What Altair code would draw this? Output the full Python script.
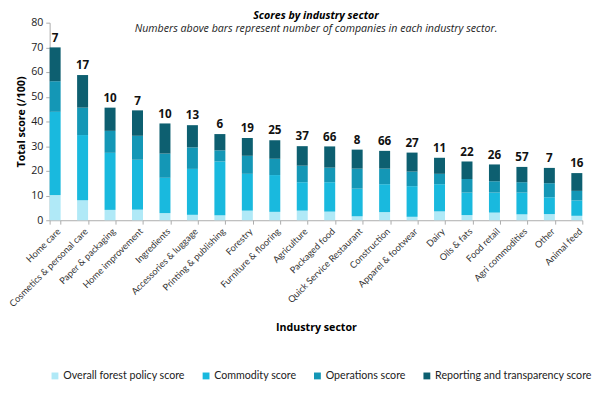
import altair as alt
import pandas as pd

categories = ["Home care", "Cosmetics & personal care", "Paper & packaging", "Home improvement",
              "Ingredients", "Accessories & luggage", "Printing & publishing", "Forestry",
              "Furniture & flooring", "Agriculture", "Packaged food", "Quick Service Restaurant",
              "Construction", "Apparel & footwear", "Dairy", "Oils & fats", "Food retail",
              "Agri commodities", "Other", "Animal feed"]
overall = [10.2, 8.1, 4.2, 4.3, 2.9, 2.2, 2.0, 3.9, 3.4, 3.9, 3.5, 1.6, 3.3, 1.4, 3.6, 2.1, 3.1, 2.4, 2.5, 1.8]
commodity = [33.7, 26.4, 23.1, 20.2, 14.3, 18.6, 21.8, 14.9, 14.9, 11.5, 11.9, 11.2, 11.3, 12.4, 11.0, 9.1, 8.1, 8.8, 6.8, 6.2]
operations = [12.4, 11.1, 8.9, 9.7, 9.8, 8.7, 4.5, 7.3, 6.6, 6.7, 5.9, 8.1, 6.3, 5.9, 4.2, 5.5, 4.6, 4.2, 5.7, 3.9]
reporting = [13.7, 13.2, 9.4, 10.3, 12.2, 9.0, 6.6, 7.2, 7.5, 7.9, 8.6, 7.7, 7.2, 7.7, 6.5, 7.1, 6.8, 6.2, 6.2, 7.2]
companies = [7, 17, 10, 7, 10, 13, 6, 19, 25, 37, 66, 8, 66, 27, 11, 22, 26, 57, 7, 16]
y_ticks = [0, 10, 20, 30, 40, 50, 60, 70, 80]

series_names = ["Overall forest policy score", "Commodity score", "Operations score",
                "Reporting and transparency score"]
series_colors = ["#b0e9f7", "#19b9de", "#1497b6", "#0d5f70"]
series_values = [overall, commodity, operations, reporting]

rows = []
for si, (name, vals) in enumerate(zip(series_names, series_values)):
    for cat, v in zip(categories, vals):
        rows.append({"sector": cat, "series": name, "score": v, "order": si})
df = pd.DataFrame(rows)

totals = pd.DataFrame({
    "sector": categories,
    "total": [round(a + b + c + d, 1) for a, b, c, d in zip(overall, commodity, operations, reporting)],
    "count": companies,
})

FONT = "Open Sans"

x_axis = alt.Axis(title="Industry sector", labelAngle=-45, labelFontSize=9.5, labelFont="Lato",
                  labelColor="#333", tickBand="extent", tickSize=4,
                  titleFontSize=11, titleFontWeight="bold", titleColor="#000",
                  titlePadding=14, labelPadding=2)
y_axis = alt.Axis(title="Total score (/100)", values=y_ticks, labelOverlap=False,
                  grid=False, tickSize=4, labelFontSize=11, labelColor="#222",
                  titleFontSize=11, titleFontWeight="bold", titleColor="#000",
                  titlePadding=4, labelPadding=3)
y_scale = alt.Scale(domain=[0, 80])
x_scale = alt.Scale(paddingInner=0.6, paddingOuter=0)

bars = alt.Chart(df).mark_bar().encode(
    x=alt.X("sector:N", sort=categories, scale=x_scale, axis=x_axis),
    y=alt.Y("score:Q", stack="zero", scale=y_scale, axis=y_axis),
    color=alt.Color("series:N", sort=series_names,
                    scale=alt.Scale(domain=series_names, range=series_colors),
                    legend=alt.Legend(title=None, orient="bottom", direction="horizontal",
                                      symbolType="square", symbolSize=50, labelFontSize=11,
                                      labelFont="Lato", labelColor="#222", columnPadding=16,
                                      offset=39, labelLimit=0, symbolStrokeWidth=0,
                                      labelOffset=3)),
    order=alt.Order("order:Q", sort="ascending"),
)

labels = alt.Chart(totals).mark_text(baseline="bottom", dy=-3, fontSize=12,
                                     fontWeight="bold", color="#111", font=FONT).encode(
    x=alt.X("sector:N", sort=categories, scale=x_scale, axis=x_axis),
    y=alt.Y("total:Q", scale=y_scale, axis=y_axis),
    text=alt.Text("count:Q"),
)

chart = alt.layer(bars, labels).properties(
    width=550, height=204,
    padding={"left": -1, "top": -4, "right": 0, "bottom": 0},
    title=alt.TitleParams(
        text="Scores by industry sector",
        subtitle="Numbers above bars represent number of companies in each industry sector.",
        fontSize=11, fontWeight="bold", fontStyle="italic", color="#000",
        subtitleFontSize=11, subtitleFontStyle="italic", subtitleColor="#222",
        anchor="middle", frame="group", offset=-18, subtitlePadding=3, font=FONT,
        subtitleFont=FONT),
).configure(font=FONT).configure_view(stroke=None).configure_axis(
    domainColor="#aaa", tickColor="#aaa", titleFont=FONT
)

chart.save("out.html", embed_options={"renderer": "svg", "actions": False})
